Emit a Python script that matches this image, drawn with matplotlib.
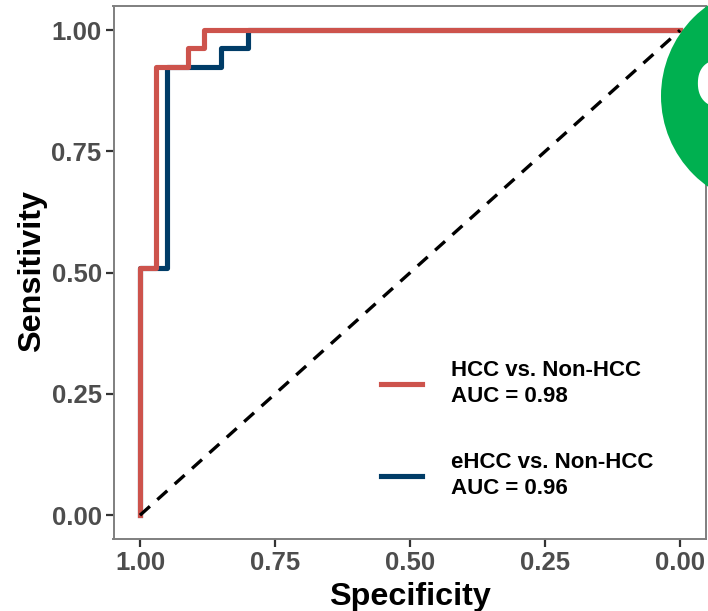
import matplotlib
matplotlib.use("Agg")
import matplotlib.pyplot as plt
from matplotlib.patches import Circle

# roc steps
hcc_spec = [1.00, 1.00, 0.97, 0.97, 0.911, 0.911, 0.881, 0.881, 0.00]
hcc_sens = [0.00, 0.51, 0.51, 0.925, 0.925, 0.963, 0.963, 1.00, 1.00]
ehcc_spec = [1.00, 1.00, 0.95, 0.95, 0.85, 0.85, 0.80, 0.80, 0.00]
ehcc_sens = [0.00, 0.51, 0.51, 0.925, 0.925, 0.963, 0.963, 1.00, 1.00]
diag_spec = [1.00, 0.00]
diag_sens = [0.00, 1.00]
tick_vals = [0.00, 0.25, 0.50, 0.75, 1.00]
tick_labels = ["0.00", "0.25", "0.50", "0.75", "1.00"]
hcc_label = "HCC vs. Non-HCC\nAUC = 0.98"
ehcc_label = "eHCC vs. Non-HCC\nAUC = 0.96"

RED = "#CD534C"
BLUE = "#003C67"
GREY = "#4D4D4D"
W, H = 708, 611

plt.rcParams["font.family"] = ["Liberation Sans", "DejaVu Sans"]
plt.rcParams["font.weight"] = "bold"

fig = plt.figure(figsize=(W / 100, H / 100), dpi=100)
ax = fig.add_axes([113.5 / W, 1 - 539 / H, (706 - 113.5) / W, (539 - 6) / H])

ax.plot(ehcc_spec, ehcc_sens, color=BLUE, lw=3.7, solid_joinstyle="round", label=ehcc_label)
ax.plot(hcc_spec, hcc_sens, color=RED, lw=3.7, solid_joinstyle="round", label=hcc_label)
ax.plot(diag_spec, diag_sens, color="black", lw=2.4, ls=(0, (4, 3)))

ax.set_xlim(1.049, -0.048)
ax.set_ylim(-0.049, 1.05)
ax.set_xticks(tick_vals, tick_labels)
ax.set_yticks(tick_vals, tick_labels)
ax.tick_params(length=5.5, width=1.6, color="#333333", labelcolor=GREY, labelsize=18.5, pad=3)
for s in ax.spines.values():
    s.set_color("#7F7F7F")
    s.set_linewidth(1.4)

ax.set_xlabel("Specificity", fontsize=23.3, fontweight="bold", labelpad=5)
ax.set_ylabel("Sensitivity", fontsize=23.3, fontweight="bold", labelpad=3)
ax.yaxis.label.set_y(0.503)

handles, labels = ax.get_legend_handles_labels()
leg = ax.legend(handles[::-1], labels[::-1], frameon=False, fontsize=16, handlelength=1.85,
                handletextpad=1.3, labelspacing=2.03, loc="lower left",
                bbox_to_anchor=(0.4365, 0.058), borderaxespad=0)
for t in leg.get_texts():
    t.set_linespacing(1.3)

# panel badge, cut off by the edge of the image
fig.add_artist(Circle((772, H - 96), 111, transform=None, color="#00B050", lw=0, zorder=3))
fig.text(694 / W, 1 - 89 / H, "C", color="white", fontsize=50, fontweight="bold",
         ha="left", va="center", zorder=4)

fig.savefig("out.png", dpi=100)
